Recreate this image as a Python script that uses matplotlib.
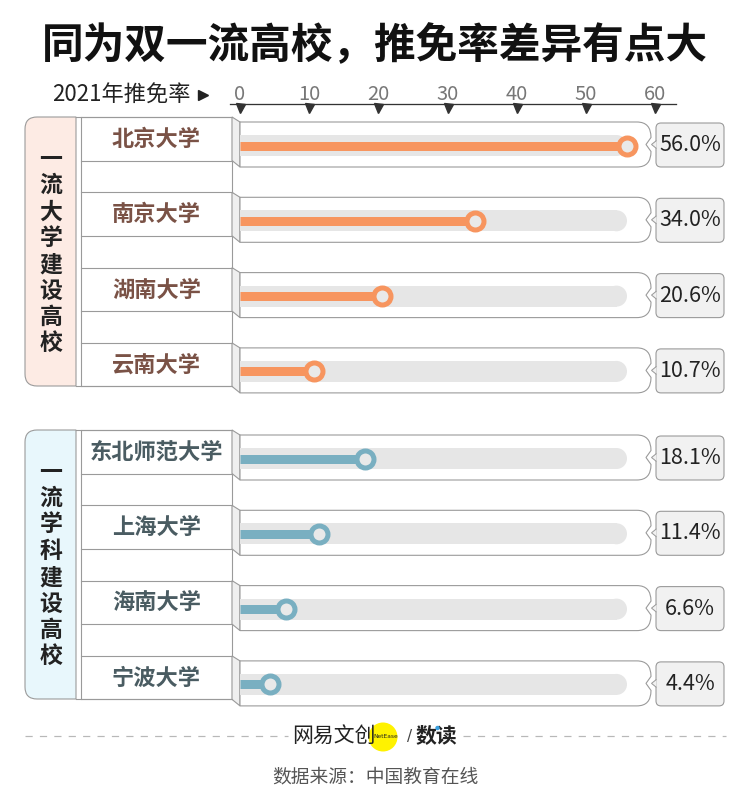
import matplotlib
matplotlib.use('Agg')
import matplotlib.pyplot as plt
from matplotlib.patches import Rectangle, FancyBboxPatch, Circle, PathPatch, Polygon
from matplotlib.path import Path

plt.rcParams['font.family'] = ['Noto Sans CJK SC', 'DejaVu Sans']

# ---------------- data ----------------
title = '同为双一流高校，推免率差异有点大'
axis_label = '2021年推免率'
group_names = ['一流大学建设高校', '一流学科建设高校']
group1_unis = ['北京大学', '南京大学', '湖南大学', '云南大学']
group1_rates = [56.0, 34.0, 20.6, 10.7]
group2_unis = ['东北师范大学', '上海大学', '海南大学', '宁波大学']
group2_rates = [18.1, 11.4, 6.6, 4.4]
ticks = [0, 10, 20, 30, 40, 50, 60]
source = '数据来源：中国教育在线'

# ---------------- style ----------------
W, H = 750, 808
PT = 0.72  # points per pixel at dpi 100
EDGE = '#9a9a9a'
group_fill = ['#fdebe4', '#e8f7fc']
name_color = ['#7a5246', '#4a5c62']
bar_color = ['#f7955f', '#79afc1']
track_color = '#e6e6e6'

fig = plt.figure(figsize=(7.5, 8.08), dpi=100)
fig.patch.set_facecolor('white')
bg = fig.add_axes([0, 0, 1, 1])
bg.set_xlim(0, W)
bg.set_ylim(H, 0)
bg.axis('off')

X0, X1 = 240, 655          # pixel positions of axis 0 and 60
AX_TOP, AX_BOT = 104, 705
ax = fig.add_axes([X0 / W, 1 - AX_BOT / H, (X1 - X0) / W, (AX_BOT - AX_TOP) / H])
ax.set_xlim(ticks[0], ticks[-1])
ax.set_ylim(AX_BOT, AX_TOP)
ax.patch.set_visible(False)
for s in ax.spines.values():
    s.set_visible(False)
ax.xaxis.tick_top()
ax.set_xticks(ticks)
ax.set_xticklabels([str(t) for t in ticks], fontsize=14.5, color='#777777')
ax.tick_params(axis='x', length=0, pad=-0.5)
ax.set_yticks([])

# title
bg.text(W / 2, 46, title, ha='center', va='center', fontsize=30,
        fontweight='heavy', color='#111111')

# axis header
bg.text(191, 95, axis_label, ha='right', va='center', fontsize=16, color='#222222')
bg.plot([203], [95], marker='>', ms=10 * PT, color='#222222', ls='none')
bg.plot([230, 676], [AX_TOP, AX_TOP], color='#333333', lw=1.3 * PT)
ax.plot(ticks, [AX_TOP + 3.5] * len(ticks), ls='none', marker='v', ms=9 * PT,
        color='#333333', clip_on=False)

# ---------------- groups ----------------
G_TOPS = [117, 430]
PITCH = 75.3
CELL_H = 43.5
G_H = 269
groups = [(group1_unis, group1_rates), (group2_unis, group2_rates)]

for g, (unis, rates) in enumerate(groups):
    G = G_TOPS[g]
    # left strip with rounded left corners
    r = 12
    verts = [(76, G), (25 + r, G), (25, G), (25, G + r), (25, G + G_H - r),
             (25, G + G_H), (25 + r, G + G_H), (76, G + G_H), (76, G)]
    codes = [Path.MOVETO, Path.LINETO, Path.CURVE3, Path.CURVE3, Path.LINETO,
             Path.CURVE3, Path.CURVE3, Path.LINETO, Path.CLOSEPOLY]
    bg.add_patch(PathPatch(Path(verts, codes), facecolor=group_fill[g],
                           edgecolor=EDGE, lw=1.1 * PT))
    # name column
    bg.add_patch(Rectangle((81, G), 151, G_H, facecolor='white', edgecolor=EDGE,
                           lw=1.1 * PT))
    bg.plot([76, 81], [G, G], color=EDGE, lw=1.1 * PT)
    bg.plot([76, 81], [G + G_H, G + G_H], color=EDGE, lw=1.1 * PT)
    # vertical group label
    label = group_names[g]
    cy = G + G_H / 2
    n = len(label)
    for k, ch in enumerate(label):
        bg.text(51, cy + (k - (n - 1) / 2) * 26.4, ch, ha='center', va='center',
                fontsize=16.5, fontweight='bold', color='#222222')

    for i, (uni, val) in enumerate(zip(unis, rates)):
        T = G + i * PITCH
        # name cell lines
        bg.plot([81, 232], [T, T], color=EDGE, lw=1.1 * PT)
        bg.plot([81, 232], [T + CELL_H, T + CELL_H], color=EDGE, lw=1.1 * PT)
        bg.text(156.5, T + CELL_H / 2 + 0.5, uni, ha='center', va='center',
                fontsize=16, fontweight='bold', color=name_color[g])
        top, bot = T + 5, T + 50
        mid = (top + bot) / 2
        # bevel
        bg.add_patch(Polygon([(232, T), (240, top), (240, bot), (232, T + CELL_H)],
                             closed=True, facecolor='#efefef', edgecolor=EDGE,
                             lw=1.1 * PT))
        # panel with notched right end
        pv = [(240, top), (637, top), (651, top), (651, mid - 7), (646, mid),
              (651, mid + 7), (651, bot), (637, bot), (240, bot), (240, top)]
        pc = [Path.MOVETO, Path.LINETO, Path.CURVE3, Path.CURVE3, Path.LINETO,
              Path.LINETO, Path.CURVE3, Path.CURVE3, Path.LINETO, Path.CLOSEPOLY]
        bg.add_patch(PathPatch(Path(pv, pc), facecolor='white', edgecolor=EDGE,
                               lw=1.1 * PT))
        # track
        ty = T + 28.5
        th = 21
        bg.add_patch(Rectangle((240, ty - th / 2), 627 - th / 2 - 240, th,
                               facecolor=track_color, edgecolor='none'))
        bg.add_patch(Circle((627 - th / 2, ty), th / 2, facecolor=track_color,
                            edgecolor='none'))
        # value box
        bg.add_patch(FancyBboxPatch((656, T + 6), 68, 44,
                                    boxstyle='round,pad=0,rounding_size=5',
                                    facecolor='#f1f1f1', edgecolor=EDGE, lw=1.1 * PT))
        bg.add_patch(Polygon([(656.5, mid - 4), (651.5, mid), (656.5, mid + 4)],
                             closed=False, facecolor='#f1f1f1', edgecolor=EDGE,
                             lw=1.0 * PT))
        bg.text(690, mid + 0.5, f'{val:.1f}%', ha='center', va='center',
                fontsize=15.5, color='#222222')
        # data bar + ring marker
        ax.plot([0, val], [ty, ty], color=bar_color[g], lw=9 * PT,
                solid_capstyle='butt', zorder=3)
        ax.plot([val], [ty], ls='none', marker='o', ms=17 * PT,
                markerfacecolor='#e9e9e9', markeredgecolor=bar_color[g],
                markeredgewidth=5 * PT, zorder=4, clip_on=False)

# ---------------- footer ----------------
FY = 736
bg.plot([25, 288], [FY, FY], color='#b8b8b8', lw=1.2 * PT, dashes=(6, 6))
bg.plot([463, 726], [FY, FY], color='#b8b8b8', lw=1.2 * PT, dashes=(6, 6))
bg.add_patch(Circle((383, 737), 14.5, facecolor='#fff200', edgecolor='none', zorder=1))
bg.text(334, 736, '网易文创', ha='center', va='center', fontsize=15,
        color='#222222', zorder=2)
bg.text(386, 736, 'NetEase', ha='center', va='center', fontsize=4.2,
        color='#222222', zorder=2, family='DejaVu Sans')
bg.text(410, 737, '/', ha='center', va='center', fontsize=11, color='#444444',
        family='DejaVu Sans')
bg.text(436, 736, '数读', ha='center', va='center', fontsize=15,
        color='#222222', fontweight='bold')
bg.add_patch(Circle((437.5, 728), 2.2, facecolor='#3aa0e0', edgecolor='none', zorder=3))
bg.text(375, 777, source, ha='center', va='center', fontsize=13.5, color='#555555')

fig.savefig('out.png', dpi=100, facecolor='white')
